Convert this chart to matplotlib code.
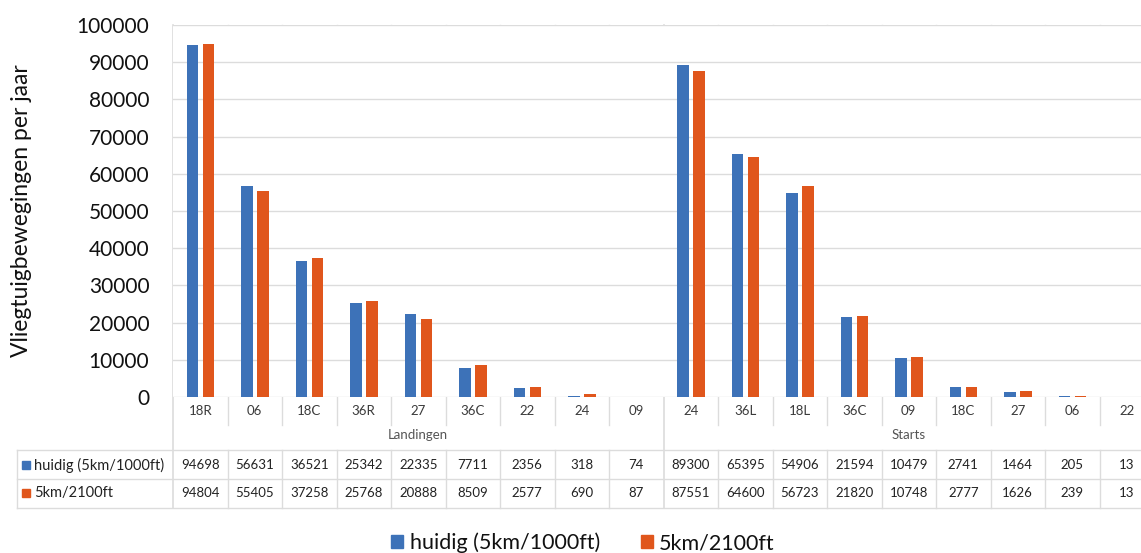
import matplotlib
matplotlib.use("Agg")
import matplotlib.pyplot as plt
import matplotlib.transforms as mtransforms
from matplotlib.lines import Line2D
from matplotlib.patches import Rectangle
import numpy as np

plt.rcParams['font.family'] = ['Lato', 'DejaVu Sans']

runways = ["18R", "06", "18C", "36R", "27", "36C", "22", "24", "09",
           "24", "36L", "18L", "36C", "09", "18C", "27", "06", "22"]
groups = ["Landingen", "Starts"]
group_sizes = [9, 9]
series_names = ["huidig (5km/1000ft)", "5km/2100ft"]
huidig = [94698, 56631, 36521, 25342, 22335, 7711, 2356, 318, 74,
          89300, 65395, 54906, 21594, 10479, 2741, 1464, 205, 13]
nieuw = [94804, 55405, 37258, 25768, 20888, 8509, 2577, 690, 87,
         87551, 64600, 56723, 21820, 10748, 2777, 1626, 239, 13]
y_ticks = list(range(0, 100001, 10000))

BLUE = "#3d72b8"
ORANGE = "#e0561c"
GRID = "#dcdcdc"
TXT = "#3a3a3a"

W, H = 1141, 553
fig = plt.figure(figsize=(W / 100, H / 100), dpi=100)


def fy(py):
    return 1 - py / H


# the plot area runs slightly past the right edge of the figure
ax_left, ax_right, ax_top, ax_bottom = 173, 1154, 25, 397
ax = fig.add_axes([ax_left / W, fy(ax_bottom), (ax_right - ax_left) / W,
                   (ax_bottom - ax_top) / H])

n = len(runways)
x = np.arange(n)
bw = 0.21
ax.bar(x - 0.145, huidig, width=bw, color=BLUE, zorder=3)
ax.bar(x + 0.155, nieuw, width=bw, color=ORANGE, zorder=3)

ax.set_xlim(-0.5, n - 0.5)
ax.set_ylim(0, 100000)
ax.set_yticks(y_ticks)
ax.set_yticklabels([str(v) for v in y_ticks], fontsize=15, color="#111111")
ax.tick_params(axis="y", length=0, pad=17)
ax.set_xticks([])
ax.yaxis.grid(True, color=GRID, lw=1)
for s in ax.spines.values():
    s.set_visible(False)
ax.set_ylabel("Vliegtuigbewegingen per jaar", fontsize=16.5, color="#111111")
ax.yaxis.set_label_coords(-(173 - 22) / (ax_right - ax_left), 0.5)
ax.yaxis.label.set_va("center")

trans = mtransforms.blended_transform_factory(ax.transData, fig.transFigure)

# vertical grid lines between runways, continued through the data table
row_top, row_mid, row_bot = 450, 479, 508
starts = np.cumsum([0] + group_sizes)
for b in np.arange(n + 1) - 0.5:
    is_group_edge = int(b + 0.5) in starts
    if is_group_edge:
        fig.add_artist(Line2D([b, b], [fy(ax_top), fy(row_bot)], transform=trans,
                              color=GRID, lw=1.2, zorder=0))
    else:
        fig.add_artist(Line2D([b, b], [fy(ax_top), fy(425)], transform=trans,
                              color=GRID, lw=1, zorder=0))
        fig.add_artist(Line2D([b, b], [fy(row_top), fy(row_bot)], transform=trans,
                              color=GRID, lw=1, zorder=0))

# runway labels
for i, r in enumerate(runways):
    fig.text(x[i], fy(411), r, transform=trans, ha="center", va="center",
             fontsize=9.5, color=TXT)

# group labels
for g, (a, b) in zip(groups, zip(starts[:-1], starts[1:])):
    fig.text((a + b - 1) / 2, fy(435), g, transform=trans, ha="center",
             va="center", fontsize=9.5, color="#555555")

# table rows
tbl_left = 17
for py in (row_top, row_mid, row_bot):
    fig.add_artist(Line2D([tbl_left / W, 1], [fy(py), fy(py)],
                          color=GRID, lw=1, zorder=0))
fig.add_artist(Line2D([tbl_left / W, tbl_left / W], [fy(row_top), fy(row_bot)],
                      color=GRID, lw=1, zorder=0))

for vals, name, col, ymid in ((huidig, series_names[0], BLUE, 465),
                              (nieuw, series_names[1], ORANGE, 493)):
    fig.add_artist(Rectangle((22 / W, fy(ymid + 4)), 8 / W, 8 / H,
                             transform=fig.transFigure, color=col))
    fig.text(34 / W, fy(ymid), name, ha="left", va="center", fontsize=10.5,
             color="#222222")
    for i, v in enumerate(vals):
        fig.text(x[i], fy(ymid), str(v), transform=trans, ha="center",
                 va="center", fontsize=9.5, color="#222222")

# legend
handles = [Rectangle((0, 0), 1, 1, color=BLUE), Rectangle((0, 0), 1, 1, color=ORANGE)]
fig.legend(handles, series_names, loc="center", bbox_to_anchor=(583 / W, fy(543)),
           ncol=2, frameon=False, fontsize=15.5, handlelength=0.55, handleheight=0.55,
           handletextpad=0.3, columnspacing=1.9, labelcolor="#111111")

fig.savefig("out.png", dpi=100)
